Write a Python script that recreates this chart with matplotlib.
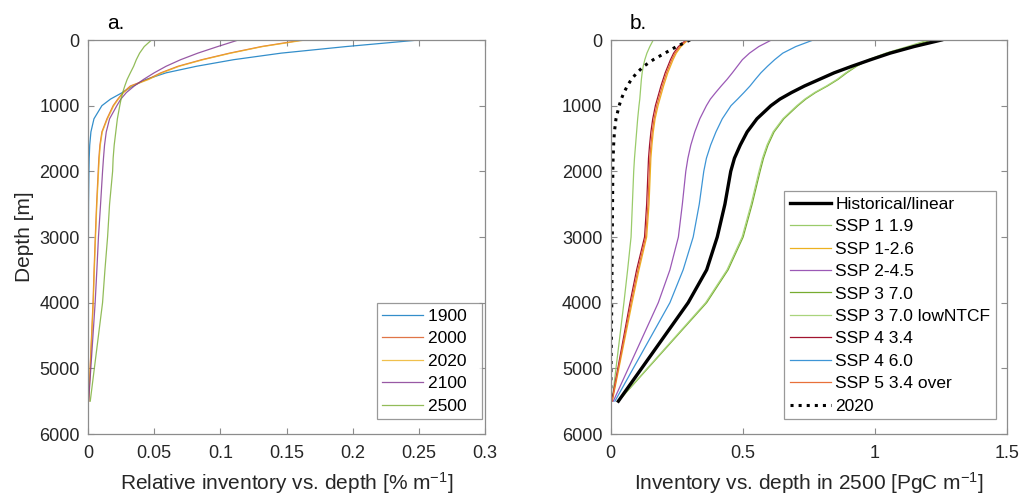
import matplotlib
matplotlib.use("Agg")
import matplotlib.pyplot as plt
import numpy as np

plt.rcParams['font.family'] = ['Liberation Sans', 'DejaVu Sans']
plt.rcParams['mathtext.fontset'] = 'custom'
plt.rcParams['mathtext.rm'] = 'Liberation Sans'
plt.rcParams['mathtext.it'] = 'Liberation Sans:italic'

# Depth levels [m]
depth = [0, 100, 200, 300, 400, 500, 600, 700, 800, 900, 1000, 1200, 1400,
         1600, 1800, 2000, 2500, 3000, 3500, 4000, 5500]

# Panel a: relative inventory vs depth [% m^-1]
rel_years = ['1900', '2000', '2020', '2100', '2500']
rel_1900 = [0.250, 0.195, 0.146, 0.110, 0.082, 0.059, 0.044, 0.034, 0.026, 0.017,
            0.0105, 0.0045, 0.0022, 0.0013, 0.0009, 0.0007, 0.0004, 0.0003, 0.0002, 0.0001, 0.0]
rel_2000 = [0.162, 0.131, 0.107, 0.086, 0.068, 0.055, 0.045, 0.032, 0.0265, 0.0225,
            0.019, 0.0143, 0.0105, 0.009, 0.0082, 0.0077, 0.0065, 0.0055, 0.0046, 0.0038, 0.0005]
rel_2020 = [0.164, 0.132, 0.108, 0.087, 0.069, 0.056, 0.046, 0.033, 0.027, 0.023,
            0.0195, 0.0147, 0.0108, 0.0093, 0.0085, 0.008, 0.0067, 0.0057, 0.0048, 0.004, 0.0005]
rel_2100 = [0.1136, 0.098, 0.083, 0.070, 0.059, 0.050, 0.042, 0.035, 0.029, 0.0248,
            0.0218, 0.0163, 0.0138, 0.0125, 0.0117, 0.011, 0.0095, 0.0079, 0.0067, 0.0054, 0.0005]
rel_2500 = [0.048, 0.0425, 0.039, 0.0365, 0.0345, 0.032, 0.0296, 0.0278, 0.0262, 0.025,
            0.024, 0.0222, 0.021, 0.0198, 0.019, 0.0186, 0.0163, 0.0148, 0.0128, 0.011, 0.0017]

# Panel b: inventory vs depth in 2500 [PgC m^-1]
scen_labels = ['Historical/linear', 'SSP 1 1.9', 'SSP 1-2.6', 'SSP 2-4.5', 'SSP 3 7.0',
               'SSP 3 7.0 lowNTCF', 'SSP 4 3.4', 'SSP 4 6.0', 'SSP 5 3.4 over', '2020']
inv_hist = [1.251, 1.147, 1.057, 0.983, 0.912, 0.845, 0.789, 0.733, 0.684, 0.640,
            0.606, 0.553, 0.516, 0.490, 0.468, 0.454, 0.432, 0.403, 0.363, 0.293, 0.029]
inv_ssp119 = [0.161, 0.148, 0.137, 0.129, 0.123, 0.119, 0.116, 0.114, 0.112, 0.110,
              0.107, 0.102, 0.098, 0.094, 0.090, 0.087, 0.082, 0.077, 0.064, 0.050, 0.005]
inv_ssp126 = [0.292, 0.266, 0.248, 0.236, 0.226, 0.216, 0.208, 0.200, 0.193, 0.186,
              0.179, 0.168, 0.161, 0.156, 0.152, 0.150, 0.145, 0.136, 0.107, 0.081, 0.006]
inv_ssp245 = [0.608, 0.560, 0.525, 0.498, 0.479, 0.460, 0.440, 0.418, 0.397, 0.377,
              0.362, 0.337, 0.318, 0.303, 0.292, 0.284, 0.271, 0.256, 0.224, 0.180, 0.010]
inv_ssp370 = [1.215, 1.130, 1.045, 0.978, 0.930, 0.893, 0.860, 0.820, 0.775, 0.738,
              0.708, 0.655, 0.618, 0.595, 0.578, 0.565, 0.535, 0.501, 0.444, 0.363, 0.029]
inv_ssp370low = [1.200, 1.122, 1.040, 0.974, 0.926, 0.889, 0.856, 0.816, 0.771, 0.734,
                 0.704, 0.651, 0.614, 0.591, 0.574, 0.561, 0.531, 0.497, 0.440, 0.359, 0.028]
inv_ssp434 = [0.285, 0.256, 0.238, 0.226, 0.216, 0.206, 0.198, 0.190, 0.183, 0.176,
              0.169, 0.159, 0.152, 0.147, 0.143, 0.141, 0.136, 0.128, 0.098, 0.073, 0.004]
inv_ssp460 = [0.766, 0.700, 0.651, 0.620, 0.593, 0.568, 0.547, 0.527, 0.504, 0.480,
              0.455, 0.422, 0.398, 0.378, 0.362, 0.352, 0.335, 0.312, 0.274, 0.224, 0.016]
inv_ssp534 = [0.289, 0.261, 0.243, 0.231, 0.221, 0.211, 0.203, 0.195, 0.188, 0.181,
              0.174, 0.164, 0.157, 0.152, 0.148, 0.146, 0.141, 0.132, 0.103, 0.077, 0.005]
inv_2020 = [0.300, 0.249, 0.205, 0.161, 0.125, 0.099, 0.078, 0.063, 0.050, 0.040,
            0.032, 0.020, 0.014, 0.011, 0.009, 0.008, 0.007, 0.006, 0.005, 0.004, 0.0]

fig = plt.figure(figsize=(10.22, 4.98), dpi=100)
axA = fig.add_axes([88 / 1022, 1 - 434 / 498, 397 / 1022, 394 / 498])
axB = fig.add_axes([610.7 / 1022, 1 - 434 / 498, 396.6 / 1022, 394 / 498])

tick_col = '#262626'
edge_col = '#8c8c8c'


def style(ax):
    for s in ax.spines.values():
        s.set_color(edge_col)
        s.set_linewidth(0.9)
    ax.tick_params(direction='in', length=4, width=0.8, color=edge_col,
                   labelcolor=tick_col, labelsize=13, top=True, right=True)
    ax.tick_params(axis='x', pad=8)
    ax.tick_params(axis='y', pad=6)
    ax.set_ylim(6000, 0)
    ax.set_yticks(range(0, 6001, 1000))


def legend(ax, handles, labels, xa):
    leg = ax.legend(handles, labels, loc='lower right', bbox_to_anchor=(xa, 0.0373),
                    fontsize=12.5, frameon=True, fancybox=False, edgecolor='#808080',
                    handlelength=2.35, labelspacing=0.42, borderpad=0.32,
                    handletextpad=0.28, borderaxespad=0.0)
    leg.get_frame().set_linewidth(0.9)
    return leg


rel_colors = ['#0072BD', '#D95319', '#EDB120', '#7E2F8E', '#77AC30']
rel_data = [rel_1900, rel_2000, rel_2020, rel_2100, rel_2500]
hA = []
for lab, col, vals in zip(rel_years, rel_colors, rel_data):
    ln, = axA.plot(vals, depth, color=col, lw=0.9, alpha=0.8, label=lab)
    hA.append(ln)
style(axA)
axA.set_xlim(0, 0.3)
axA.set_xticks([0, 0.05, 0.1, 0.15, 0.2, 0.25, 0.3])
axA.set_xticklabels(['0', '0.05', '0.1', '0.15', '0.2', '0.25', '0.3'])
axA.set_ylabel('Depth [m]', fontsize=15, color=tick_col, labelpad=4)
axA.set_xlabel(r'Relative inventory vs. depth [% m$^{-1}$]', fontsize=15, color=tick_col, labelpad=6)
axA.text(0.048, 1.028, 'a.', transform=axA.transAxes, fontsize=15, color='black', va='baseline')
legend(axA, hA, [y + '  ' for y in rel_years], 0.9924)

scen_data = [inv_hist, inv_ssp119, inv_ssp126, inv_ssp245, inv_ssp370, inv_ssp370low,
             inv_ssp434, inv_ssp460, inv_ssp534, inv_2020]
scen_colors = ['black', '#9ACB6A', '#EDB120', '#9B59B6', '#77AC30', '#A9D47C',
               '#A2142F', '#3D95D6', '#E8703A', 'black']
scen_lw = [2.4, 0.9, 0.9, 0.9, 0.9, 0.9, 0.9, 0.9, 0.9, 2.2]
scen_ls = ['-', '-', '-', '-', '-', '-', '-', '-', '-', ':']
order = [4, 5, 1, 2, 6, 8, 3, 7, 0, 9]
lines = {}
for i in order:
    ln, = axB.plot(scen_data[i], depth, color=scen_colors[i], lw=scen_lw[i], ls=scen_ls[i],
                   label=scen_labels[i])
    lines[i] = ln
style(axB)
axB.set_xlim(0, 1.5)
axB.set_xticks([0, 0.5, 1, 1.5])
axB.set_xticklabels(['0', '0.5', '1', '1.5'])
axB.set_xlabel(r'Inventory vs. depth in 2500 [PgC m$^{-1}$]', fontsize=15, color=tick_col, labelpad=6)
axB.text(0.048, 1.028, 'b.', transform=axB.transAxes, fontsize=15, color='black', va='baseline')
legend(axB, [lines[i] for i in range(10)], scen_labels, 0.9715)

fig.savefig('out.png', dpi=100)
